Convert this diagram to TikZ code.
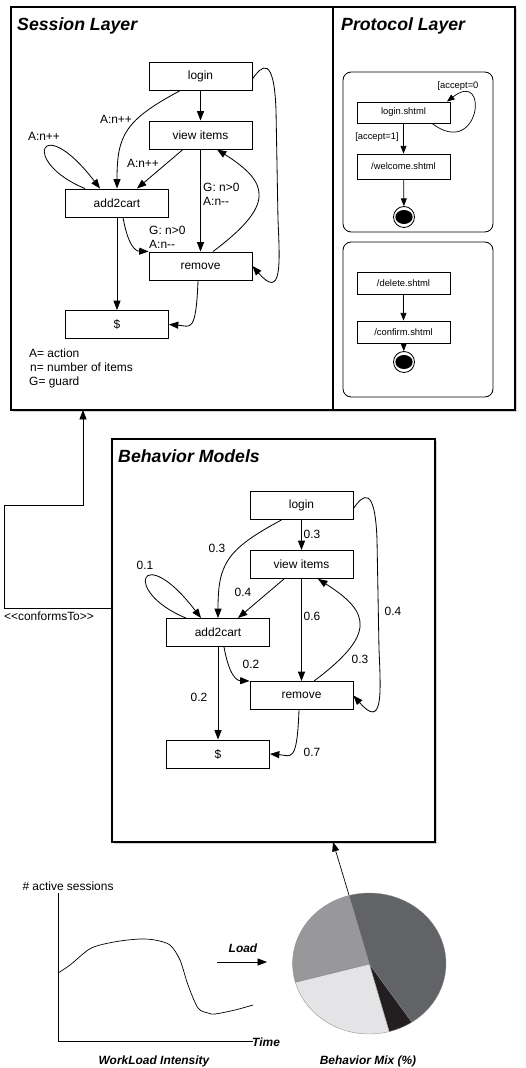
\documentclass[tikz,border=0pt]{standalone}
\usepackage{fontspec}
\setmainfont{Liberation Sans}
\usetikzlibrary{arrows.meta,calc,shadows}

\definecolor{darkslice}{HTML}{626366}
\definecolor{inkslice}{HTML}{231F20}
\definecolor{paleslice}{HTML}{E4E4E6}
\definecolor{midslice}{HTML}{98989B}

\tikzset{
  usrstate/.style={draw, line width=0.8pt, minimum width=3.09cm, minimum height=0.84cm,
    inner sep=0pt, font=\fontsize{10.2}{12}\selectfont},
  pstate/.style={draw, line width=0.7pt, minimum width=2.79cm, minimum height=0.66cm,
    inner sep=0pt, font=\fontsize{8}{9.6}\selectfont},
  final/.style={circle, draw, line width=0.7pt, inner sep=0pt, minimum size=0.63cm,
    path picture={\fill (path picture bounding box.center) ellipse (0.26cm and 0.21cm);}},
  flow/.style={line width=0.7pt, -{Triangle[length=8pt,width=6pt]}},
  pflow/.style={line width=0.6pt, -{Triangle[length=6.5pt,width=5pt]}},
  lbl/.style={font=\fontsize{10.2}{11.9}\selectfont, inner sep=0pt, align=left},
  plbl/.style={font=\fontsize{8}{9.6}\selectfont, inner sep=0pt},
  layertitle/.style={font=\fontsize{15.1}{18}\bfseries\itshape\selectfont, anchor=base west, inner sep=0pt},
  axistext/.style={font=\fontsize{10.2}{12}\bfseries\itshape\selectfont, inner sep=0pt},
  frame/.style={line width=1.3pt, fill=white,
    drop shadow={shadow xshift=1.5pt, shadow yshift=-1.5pt, opacity=0.35}},
  slice/.style={draw=black!45, line width=0.3pt}
}

\begin{document}
\begin{tikzpicture}[x=0.03cm,y=-0.03cm]
\useasboundingbox (0,0) rectangle (525,1068);

% layers
\draw[frame] (11,7) rectangle (515,410);
\draw[line width=1.3pt] (333,7) -- (333,410);
\node[layertitle] (stitle) at (17,30.5) {Session Layer};
\node[layertitle] (ptitle) at (341,30.5) {Protocol Layer};

\begin{scope}
  \node[usrstate] (slogin) at (200.5,76) {login};
  \node[usrstate] (sview) at (200.5,135) {view items};
  \node[usrstate] (scart) at (117,203) {add2cart};
  \node[usrstate] (sremove) at (200.5,266) {remove};
  \node[usrstate] (spay) at (117,324.5) {\$};
  \draw[flow] (slogin) -- (sview);
  \draw[flow] ($(slogin.south)+(-20,0)$) .. controls (125,120) and (117,135) .. (scart.north);
  \draw[flow] ($(scart.north)+(-32,0)$) .. controls (20,162) and (40,110) .. ($(scart.north)+(-17,0)$);
  \draw[flow] ($(sview.south)+(-17.5,0)$) -- ($(scart.north)+(20,0)$);
  \draw[flow] (sview) -- (sremove);
  \draw[flow] ($(sremove.north)+(12.5,0)$) .. controls (275,205) and (270,183) .. ($(sview.south)+(16.5,0)$);
  \draw[flow] ($(scart.south)+(6,0)$) .. controls (128,245) and (135,251) .. (sremove.north west);
  \draw[flow] (scart) -- (spay);
  \draw[flow] ($(sremove.south)+(-2.5,0)$) .. controls (196,335) and (190,326) .. (spay.east);
  \draw[flow] ($(slogin.east)+(0,3)$) .. controls (262,65) and (274,55) .. (276,110)
    -- (278,220) .. controls (280,265) and (282,300) .. (sremove.east);
  \node[lbl] (sl1) at (116,119) {A:n++};
  \node[lbl] (sl2) at (44,136) {A:n++};
  \node[lbl] (sl3) at (143,163) {A:n++};
  \node[lbl, anchor=west] (sl4) at (203,194) {G: n>0\\A:n-\kern0pt-};
  \node[lbl, anchor=west] (sl5) at (149,237) {G: n>0\\A:n-\kern0pt-};
  \node[lbl, anchor=base west] (key1) at (29,357.5) {A= action};
  \node[lbl, anchor=base west] (key2) at (30,371.5) {n= number of items};
  \node[lbl, anchor=base west] (key3) at (29,385) {G= guard};
\end{scope}

% protocol layer
\draw[line width=0.7pt, rounded corners=7pt] (343,72) rectangle (493,232);
\draw[line width=0.7pt, rounded corners=7pt] (343,242) rectangle (493,397);
\node[pstate, minimum height=0.63cm] (plogin) at (403.5,112.5) {login.shtml};
\node[pstate, minimum height=0.75cm] (pwelcome) at (403.5,166.5) {/welcome.shtml};
\node[final] (pend1) at (404,217) {};
\node[pstate] (pdelete) at (403.5,283) {/delete.shtml};
\node[pstate] (pconfirm) at (403.5,332) {/confirm.shtml};
\node[final] (pend2) at (404,362) {};
\draw[pflow] (plogin) -- (pwelcome);
\draw[pflow] (pwelcome) -- (pend1);
\draw[pflow] ($(plogin.south)+(28.5,0)$) .. controls (480,160) and (490,68) .. ($(plogin.north)+(43.5,0)$);
\draw[pflow] (pdelete) -- (pconfirm);
\draw[pflow] (pconfirm) -- (pend2);
\node[plbl] (pl1) at (458,86) {[accept=0};
\node[plbl] (pl2) at (377,137) {[accept=1]};

% behavior models
\draw[frame] (112,439) rectangle (435,842);
\node[layertitle] (btitle) at (118,462.4) {Behavior Models};

\begin{scope}[shift={(101,429.5)}]
  \node[usrstate] (blogin) at (200.5,76) {login};
  \node[usrstate] (bview) at (200.5,135) {view items};
  \node[usrstate] (bcart) at (117,203) {add2cart};
  \node[usrstate] (bremove) at (200.5,266) {remove};
  \node[usrstate] (bpay) at (117,324.5) {\$};
  \draw[flow] (blogin) -- (bview);
  \draw[flow] ($(blogin.south)+(-20,0)$) .. controls (125,120) and (117,135) .. (bcart.north);
  \draw[flow] ($(bcart.north)+(-32,0)$) .. controls (20,162) and (40,110) .. ($(bcart.north)+(-17,0)$);
  \draw[flow] ($(bview.south)+(-17.5,0)$) -- ($(bcart.north)+(20,0)$);
  \draw[flow] (bview) -- (bremove);
  \draw[flow] ($(bremove.north)+(12.5,0)$) .. controls (275,205) and (270,183) .. ($(bview.south)+(16.5,0)$);
  \draw[flow] ($(bcart.south)+(6,0)$) .. controls (128,245) and (135,251) .. (bremove.north west);
  \draw[flow] (bcart) -- (bpay);
  \draw[flow] ($(bremove.south)+(-2.5,0)$) .. controls (196,335) and (190,326) .. (bpay.east);
  \draw[flow] ($(blogin.east)+(0,3)$) .. controls (262,65) and (274,55) .. (276,110)
    -- (278,220) .. controls (280,265) and (282,300) .. (bremove.east);
  \node[lbl] (bl1) at (211,104.5) {0.3};
  \node[lbl] (bl2) at (116,118.5) {0.3};
  \node[lbl] (bl3) at (44,135.5) {0.1};
  \node[lbl] (bl4) at (142,162.5) {0.4};
  \node[lbl] (bl5) at (211,186.5) {0.6};
  \node[lbl] (bl6) at (259,229.5) {0.3};
  \node[lbl] (bl7) at (292,181.5) {0.4};
  \node[lbl] (bl8) at (150,234.5) {0.2};
  \node[lbl] (bl9) at (98,267.5) {0.2};
  \node[lbl] (bl10) at (211,322.5) {0.7};
\end{scope}

% conformsTo
\coordinate (behleft) at (112,608);
\coordinate (sessbot) at (83,410);
\draw[flow, line width=0.6pt] (behleft) -- (4,608) -- (4,505) -| (sessbot);
\node[lbl] (conf) at (49,616) {<\kern0pt<conformsTo>\kern0pt>};

% workload
\coordinate (orig) at (58,1041);
\draw[line width=0.7pt] (58,893) -- (orig) -- (253,1041);
\node[lbl] (ylab) at (68,886) {\# active sessions};
\node[axistext, anchor=west] (xlab) at (252,1042) {Time};
\draw[line width=0.6pt] plot[smooth] coordinates {(58,973) (70,965) (88,950) (100,945)
  (120,941) (140,939) (155,940) (170,945) (180,960) (188,985) (198,1008) (208,1013)
  (215,1014) (235,1010) (253,1005)};
\node[axistext] (wlab) at (154,1061) {WorkLoad Intensity};
\coordinate (loadtail) at (217,962);
\coordinate (loadhead) at (267,962);
\draw[flow, line width=0.6pt] (loadtail) -- (loadhead);
\node[axistext] (loadlab) at (243,948) {Load};

% behavior mix
\coordinate (pc) at (369.3,964);
\fill[darkslice, slice] (pc) -- plot[domain=-105.4:56.3, samples=60] ({369.3+76.7*cos(\x)},{963.5+70.5*sin(\x)}) -- cycle;
\fill[inkslice, slice] (pc) -- plot[domain=56.3:75, samples=10] ({369.3+76.7*cos(\x)},{963.5+70.5*sin(\x)}) -- cycle;
\fill[paleslice, slice] (pc) -- plot[domain=75:164.6, samples=40] ({369.3+76.7*cos(\x)},{963.5+70.5*sin(\x)}) -- cycle;
\fill[midslice, slice] (pc) -- plot[domain=164.6:254.6, samples=40] ({369.3+76.7*cos(\x)},{963.5+70.5*sin(\x)}) -- cycle;
\node[axistext] (mixlab) at (368,1061) {Behavior Mix (\%)};
\coordinate (pietop) at (349,895);
\coordinate (behbot) at (333,842);
\draw[flow, line width=0.6pt] (pietop) -- (behbot);

\end{tikzpicture}
\end{document}
